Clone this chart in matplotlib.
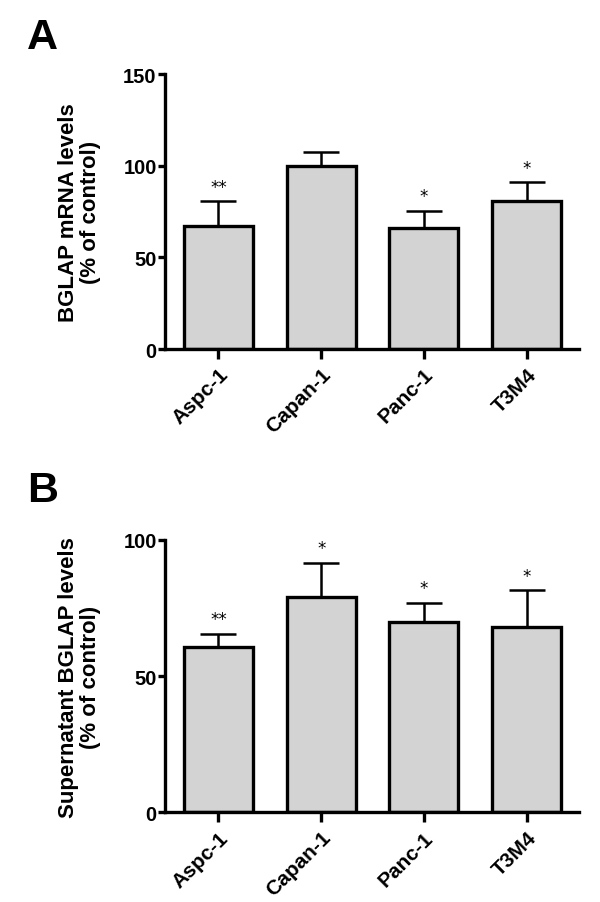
import matplotlib
matplotlib.use("Agg")
import numpy as np
import matplotlib.pyplot as plt

plt.rcParams['font.family'] = ['Liberation Sans', 'DejaVu Sans']

# cell lines
cell_lines = ["Aspc-1", "Capan-1", "Panc-1", "T3M4"]

# panel A: BGLAP mRNA levels (% of control)
mrna_mean = [67.3, 100.0, 66.0, 80.5]
mrna_err = [13.2, 7.5, 9.3, 10.4]
mrna_sig = ["**", "", "*", "*"]

# panel B: supernatant BGLAP levels (% of control)
sup_mean = [60.8, 79.2, 70.0, 68.2]
sup_err = [4.8, 12.4, 6.9, 13.3]
sup_sig = ["**", "*", "*", "*"]

BAR_COLOR = "#d3d3d3"
LW = 2.4


def draw_panel(ax, means, errs, sigs, ylim, yticks, ylabel):
    x = np.arange(len(cell_lines))
    ax.bar(x, means, width=0.67, color=BAR_COLOR, edgecolor="black",
           linewidth=LW, zorder=2)
    ax.errorbar(x, means, yerr=[np.zeros(len(errs)), errs], fmt="none",
                ecolor="black", elinewidth=1.8, capsize=13, capthick=1.8,
                zorder=1)
    for xi, m, e, s in zip(x, means, errs, sigs):
        if s:
            ax.annotate(s, (xi, m + e), xytext=(0, 4), textcoords="offset points",
                        ha="center", va="bottom", fontsize=12,
                        family=["DejaVu Sans"])
    ax.set_xlim(-0.52, 3.51)
    ax.set_ylim(*ylim)
    ax.set_yticks(yticks)
    ax.set_xticks(x)
    ax.set_xticklabels(cell_lines, rotation=45, ha="right",
                       rotation_mode="anchor", fontsize=15, fontweight="bold")
    for lab in ax.get_yticklabels():
        lab.set_fontsize(14.5)
        lab.set_fontweight("bold")
    ax.spines["top"].set_visible(False)
    ax.spines["right"].set_visible(False)
    ax.spines["left"].set_linewidth(LW)
    ax.spines["bottom"].set_linewidth(LW)
    ax.tick_params(axis="y", length=5, width=LW, pad=1)
    ax.tick_params(axis="x", length=7, width=LW, pad=4)
    ax.set_ylabel(ylabel, fontsize=16, fontweight="bold", labelpad=16,
                  linespacing=1.05)


fig = plt.figure(figsize=(6, 9.03), dpi=100)
ax_a = fig.add_axes([0.275, 0.6124, 0.69, 0.3045])
ax_b = fig.add_axes([0.275, 0.0993, 0.69, 0.3016])

draw_panel(ax_a, mrna_mean, mrna_err, mrna_sig, (0, 150), [0, 50, 100, 150],
           "BGLAP mRNA levels\n(% of control)")
draw_panel(ax_b, sup_mean, sup_err, sup_sig, (0, 100), [0, 50, 100],
           "Supernatant BGLAP levels\n(% of control)")

fig.text(0.045, 0.936, "A", fontsize=31, fontweight="bold", va="bottom")
fig.text(0.045, 0.434, "B", fontsize=31, fontweight="bold", va="bottom")

fig.savefig("out.png", dpi=100)
